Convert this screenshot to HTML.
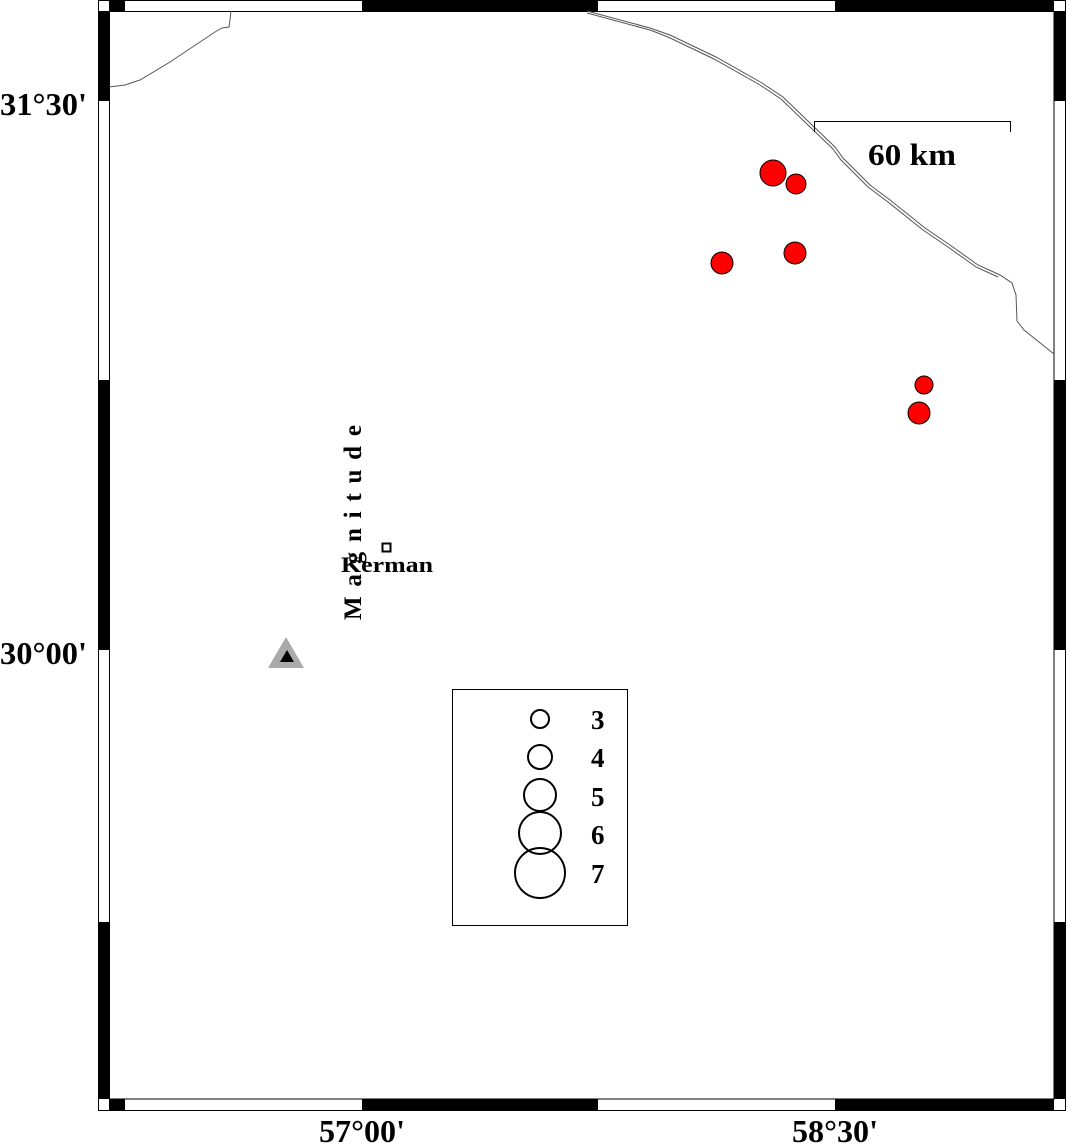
<!DOCTYPE html>
<html><head><meta charset="utf-8"><style>
html,body{margin:0;padding:0;background:#fff;}
svg{display:block;}
text{font-family:"Liberation Serif",serif;font-weight:bold;fill:#000;}
</style></head><body>
<svg width="1066" height="1148" viewBox="0 0 1066 1148" xmlns="http://www.w3.org/2000/svg">
<rect x="0" y="0" width="1066" height="1148" fill="#fff"/>
<rect x="98.5" y="0.5" width="967" height="1110" fill="#fff" stroke="#000" stroke-width="1"/>
<rect x="109" y="0" width="16" height="11" fill="#000"/>
<rect x="362" y="0" width="236" height="11" fill="#000"/>
<rect x="835" y="0" width="219" height="11" fill="#000"/>
<rect x="109" y="1099" width="16" height="11" fill="#000"/>
<rect x="362" y="1099" width="236" height="11" fill="#000"/>
<rect x="835" y="1099" width="219" height="11" fill="#000"/>
<rect x="98" y="11" width="11" height="90" fill="#000"/>
<rect x="98" y="380" width="11" height="270" fill="#000"/>
<rect x="98" y="922" width="11" height="177" fill="#000"/>
<rect x="1054" y="11" width="12" height="90" fill="#000"/>
<rect x="1054" y="380" width="12" height="270" fill="#000"/>
<rect x="1054" y="922" width="12" height="177" fill="#000"/>
<rect x="109.5" y="11.5" width="944.5" height="1087.5" fill="none" stroke="#000" stroke-width="1"/>

<g fill="none" stroke="#555" stroke-width="1">
<path d="M109,87 L125,85 L140,80 L170,62 L200,42 L215,32 L222,28 L229,27 L230,20 L231,11"/>
<path d="M587,11 L650,28 L670,35 L716,57 L762,83 L783,97 L811,124 L835,147 L843,158 L870,185 L890,200 L925,228 L950,245 L978,265 L1000,275 L1012,283 L1016,295 L1017,321 L1024,330 L1054,354"/>
<path d="M587,13 L650,30 L668,37 L714,59 L760,85 L781,99 L809,126 L833,149 L841,160 L868,187 L888,202 L923,230 L948,247 L976,267 L998,277"/>
</g>

<path d="M814.5,132 L814.5,121.5 L1010.5,121.5 L1010.5,132" fill="none" stroke="#000" stroke-width="1"/>
<text x="868" y="165" font-size="31" textLength="88" lengthAdjust="spacingAndGlyphs">60 km</text>

<g fill="#f00" stroke="#000" stroke-width="1">
<circle cx="773" cy="173" r="13"/>
<circle cx="796" cy="184" r="10"/>
<circle cx="795" cy="253" r="11"/>
<circle cx="722" cy="263" r="11"/>
<circle cx="924" cy="385" r="9"/>
<circle cx="919" cy="413" r="11"/>
</g>

<text transform="translate(361,620) rotate(-90)" font-size="25" textLength="195" lengthAdjust="spacing">Magnitude</text>
<rect x="382.5" y="543.5" width="8" height="8" fill="#fff" stroke="#000" stroke-width="2"/>
<text x="341" y="572" font-size="22" textLength="92" lengthAdjust="spacingAndGlyphs">Kerman</text>

<polygon points="286,637 268,668 304,668" fill="#aaa"/>
<polygon points="287,650 280,662 294,662" fill="#000"/>

<rect x="452.5" y="689.5" width="175" height="236" fill="#fff" stroke="#000" stroke-width="1"/>
<g fill="none" stroke="#000" stroke-width="2">
<circle cx="540" cy="719" r="9"/>
<circle cx="540" cy="757" r="12"/>
<circle cx="540" cy="795" r="16"/>
<circle cx="540" cy="833" r="21"/>
<circle cx="540" cy="873" r="25"/>
</g>
<g font-size="27">
<text x="591" y="729">3</text>
<text x="591" y="767">4</text>
<text x="591" y="806">5</text>
<text x="591" y="844">6</text>
<text x="591" y="883">7</text>
</g>

<text x="0" y="115" font-size="32" textLength="87" lengthAdjust="spacingAndGlyphs">31°30'</text>
<text x="0" y="664" font-size="32" textLength="87" lengthAdjust="spacingAndGlyphs">30°00'</text>
<text x="319" y="1142" font-size="32" textLength="86" lengthAdjust="spacingAndGlyphs">57°00'</text>
<text x="792" y="1142" font-size="32" textLength="86" lengthAdjust="spacingAndGlyphs">58°30'</text>
</svg>
</body></html>
